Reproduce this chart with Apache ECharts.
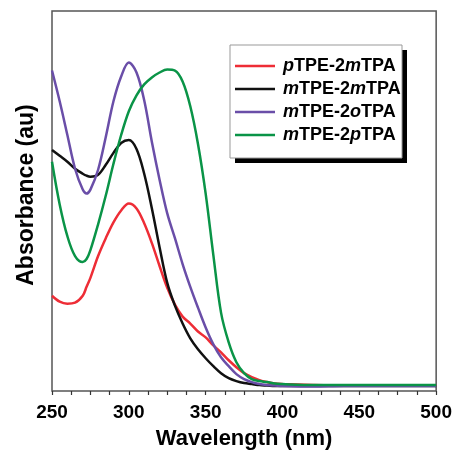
<!DOCTYPE html>
<html>
<head>
<meta charset="utf-8">
<script src="https://cdn.jsdelivr.net/npm/echarts@6/dist/echarts.min.js"></script>
<style>
  html, body { margin: 0; padding: 0; background: #fff; }
</style>
</head>
<body>
<div id="main" style="width: 455px;height: 455px;"></div>
<script>
  // wavelength (nm) shared by all spectra
  var wavelength = [250, 255, 260, 265, 270, 272.5, 275, 280, 285, 290, 295,
    300, 305, 310, 315, 320, 325, 330, 335, 340, 345,
    350, 355, 360, 365, 370, 375, 380, 385, 390, 395,
    400, 420, 440, 460, 480, 500]

  var seriesNames = ['pTPE-2mTPA', 'mTPE-2mTPA', 'mTPE-2oTPA', 'mTPE-2pTPA']
  var seriesColors = ['#ee2d36', '#111111', '#6a4ea8', '#0a9447']

  // absorbance (au)
  var pTPE2mTPA = [0.96, 0.90, 0.88, 0.89, 0.96, 1.05, 1.14, 1.36, 1.54, 1.70, 1.82,
    1.89, 1.84, 1.69, 1.49, 1.26, 1.04, 0.87, 0.75, 0.68, 0.60,
    0.54, 0.46, 0.39, 0.31, 0.24, 0.18, 0.14, 0.11, 0.09, 0.075,
    0.07, 0.06, 0.055, 0.055, 0.055, 0.055]
  var mTPE2mTPA = [2.43, 2.37, 2.31, 2.24, 2.19, 2.17, 2.16, 2.18, 2.28, 2.40, 2.50,
    2.53, 2.44, 2.19, 1.84, 1.45, 1.09, 0.86, 0.68, 0.53, 0.42,
    0.33, 0.25, 0.18, 0.13, 0.10, 0.08, 0.07, 0.06, 0.055, 0.05,
    0.05, 0.05, 0.05, 0.05, 0.05, 0.05]
  var mTPE2oTPA = [3.23, 2.92, 2.58, 2.24, 2.03, 1.99, 2.03, 2.23, 2.56, 2.92, 3.17,
    3.31, 3.21, 2.93, 2.51, 2.13, 1.79, 1.54, 1.28, 1.05, 0.84,
    0.64, 0.47, 0.34, 0.25, 0.17, 0.12, 0.09, 0.07, 0.06, 0.055,
    0.05, 0.045, 0.05, 0.05, 0.05, 0.05]
  var mTPE2pTPA = [2.31, 1.88, 1.56, 1.36, 1.30, 1.33, 1.42, 1.68, 1.97, 2.29, 2.58,
    2.82, 2.98, 3.09, 3.16, 3.21, 3.24, 3.23, 3.12, 2.87, 2.49,
    1.99, 1.37, 0.79, 0.49, 0.29, 0.18, 0.12, 0.10, 0.09, 0.075,
    0.07, 0.06, 0.06, 0.06, 0.06, 0.06]

  var allValues = [pTPE2mTPA, mTPE2mTPA, mTPE2oTPA, mTPE2pTPA]

  function pairs(values) {
    return wavelength.map(function (w, i) { return [w, values[i]] })
  }

  var chart = echarts.init(document.getElementById('main'))
  var font = 'Liberation Sans, Arial, sans-serif'

  chart.setOption({
    animation: false,
    grid: {
      left: 52,
      right: 18,
      top: 11,
      bottom: 61,
      show: true,
      borderColor: '#555',
      borderWidth: 1.5
    },
    // legend frame with a hard black drop shadow
    graphic: [
      { type: 'rect', shape: { x: 235, y: 50, width: 172, height: 113 }, style: { fill: '#000' }, z: 3 },
      { type: 'rect', shape: { x: 230, y: 45, width: 172, height: 113 }, style: { fill: '#fff', stroke: '#999', lineWidth: 1 }, z: 3 }
    ],
    legend: {
      orient: 'vertical',
      left: 235,
      top: 57,
      data: seriesNames,
      icon: 'rect',
      itemWidth: 40,
      itemHeight: 2.5,
      itemGap: 5,
      padding: 0,
      formatter: function (name) {
        var m = name.match(/^([pmo])TPE-2([pmo])TPA$/)
        return '{i|' + m[1] + '}{b|TPE-2}{i|' + m[2] + '}{b|TPA}'
      },
      textStyle: {
        padding: [0, 0, 0, 3],
        rich: {
          b: { fontFamily: font, fontWeight: 'bold', fontSize: 18, lineHeight: 18, color: '#000' },
          i: { fontFamily: font, fontWeight: 'bold', fontStyle: 'italic', fontSize: 18, lineHeight: 18, color: '#000' }
        }
      }
    },
    xAxis: {
      type: 'value',
      min: 250,
      max: 500,
      interval: 50,
      name: 'Wavelength (nm)',
      nameLocation: 'middle',
      nameGap: 37,
      nameTextStyle: { fontFamily: font, fontWeight: 'bold', fontSize: 22, color: '#000' },
      axisLine: { show: false },
      axisTick: { show: true, length: 4, lineStyle: { color: '#333', width: 1.2 } },
      minorTick: { show: true, splitNumber: 4, length: 4, lineStyle: { color: '#333', width: 1.2 } },
      axisLabel: { fontFamily: font, fontWeight: 'bold', fontSize: 19, color: '#000', margin: 12 },
      splitLine: { show: false }
    },
    yAxis: {
      type: 'value',
      min: 0,
      max: 3.83,
      name: 'Absorbance (au)',
      nameLocation: 'middle',
      nameGap: 14,
      nameTextStyle: { fontFamily: font, fontWeight: 'bold', fontSize: 23, color: '#000', padding: [0, 0, 0, 12] },
      axisLine: { show: false },
      axisTick: { show: false },
      axisLabel: { show: false },
      splitLine: { show: false }
    },
    series: seriesNames.map(function (name, k) {
      return {
        name: name,
        type: 'line',
        data: pairs(allValues[k]),
        smooth: 0.35,
        symbol: 'none',
        color: seriesColors[k],
        lineStyle: { width: 2.5, color: seriesColors[k] }
      }
    })
  })
</script>
</body>
</html>
